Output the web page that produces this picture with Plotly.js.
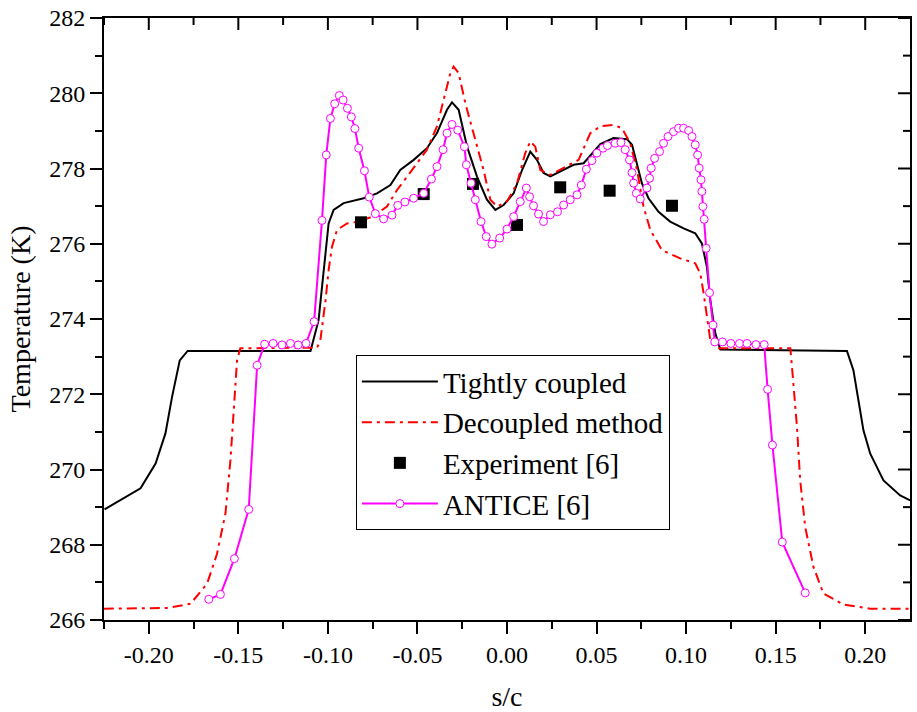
<!DOCTYPE html>
<html>
<head>
<meta charset="utf-8">
<script src="https://cdn.plot.ly/plotly-3.0.1.min.js"></script>
<style>html,body{margin:0;padding:0;background:#fff;overflow:hidden;}#chart{width:917px;height:712px;}</style>
</head>
<body>
<div id="chart"></div>
<script>
// ---- Data ----
const tightX = [-0.2247,-0.2046,-0.1962,-0.1907,-0.1870,-0.1827,-0.1783,-0.1097,-0.1052,-0.1041,-0.1013,-0.0996,-0.0968,-0.0912,-0.0800,-0.0726,-0.0651,-0.0596,-0.0521,-0.0447,-0.0391,-0.0335,-0.0307,-0.0270,-0.0223,-0.0167,-0.0112,-0.0065,-0.0019,0.0037,0.0084,0.0130,0.0167,0.0204,0.0242,0.0297,0.0372,0.0428,0.0483,0.0521,0.0595,0.0670,0.0698,0.0726,0.0753,0.0790,0.0846,0.0911,0.0986,0.1051,0.1088,0.1116,0.1135,0.1163,0.1191,0.1898,0.1934,0.1962,0.1990,0.2028,0.2102,0.2195,0.2251];
const tightY = [268.94,269.50,270.16,270.96,271.93,272.90,273.15,273.15,273.97,274.50,275.66,276.54,276.90,277.08,277.21,277.34,277.56,277.96,278.23,278.54,278.94,279.56,279.76,279.56,278.58,277.78,277.17,276.90,277.03,277.34,277.96,278.45,278.23,277.88,277.79,277.92,278.10,278.14,278.45,278.65,278.81,278.78,278.63,278.14,277.61,277.21,276.85,276.59,276.41,276.28,276.01,275.39,274.50,273.62,273.19,273.15,272.64,271.84,271.04,270.42,269.71,269.31,269.18];

const decX = [-0.2251,-0.1900,-0.1767,-0.1674,-0.1619,-0.1572,-0.1544,-0.1526,-0.1507,-0.1489,-0.1060,-0.1042,-0.1013,-0.0996,-0.0977,-0.0949,-0.0893,-0.0828,-0.0753,-0.0670,-0.0614,-0.0558,-0.0502,-0.0447,-0.0391,-0.0354,-0.0316,-0.0298,-0.0270,-0.0233,-0.0186,-0.0131,-0.0093,-0.0056,0.0000,0.0056,0.0102,0.0130,0.0158,0.0186,0.0242,0.0316,0.0400,0.0465,0.0521,0.0595,0.0642,0.0688,0.0726,0.0762,0.0800,0.0865,0.0967,0.1051,0.1079,0.1098,0.1116,0.1135,0.1172,0.1582,0.1591,0.1619,0.1637,0.1665,0.1711,0.1767,0.1879,0.2028,0.2251];
const decY = [266.30,266.32,266.43,266.97,267.76,268.83,270.25,271.58,272.91,273.22,273.24,273.44,274.50,275.30,275.92,276.37,276.54,276.59,276.72,276.99,277.43,277.78,278.14,278.50,279.12,279.83,280.54,280.71,280.54,279.74,278.94,277.96,277.17,276.99,277.12,277.61,278.41,278.72,278.58,277.96,277.83,278.01,278.23,278.94,279.12,279.16,279.07,278.67,277.96,276.99,276.37,275.83,275.61,275.48,275.21,274.68,274.06,273.44,273.22,273.22,272.73,271.13,269.71,268.47,267.41,266.70,266.41,266.30,266.30];

const expX = [-0.0815,-0.0465,-0.0190,0.0056,0.0297,0.0573,0.0921];
const expY = [276.57,277.32,277.59,276.50,277.50,277.41,277.01];

const anticeX = [-0.1665,-0.1600,-0.1522,-0.1442,-0.1395,-0.1353,-0.1306,-0.1256,-0.1209,-0.1166,-0.1122,-0.1077,-0.1033,-0.1009,-0.0986,-0.0962,-0.0936,-0.0915,-0.0891,-0.0869,-0.0849,-0.0828,-0.0796,-0.0769,-0.0735,-0.0689,-0.0642,-0.0610,-0.0570,-0.0521,-0.0465,-0.0422,-0.0391,-0.0357,-0.0335,-0.0307,-0.0275,-0.0238,-0.0227,-0.0201,-0.0177,-0.0145,-0.0116,-0.0084,-0.0041,0.0000,0.0037,0.0074,0.0108,0.0126,0.0148,0.0176,0.0204,0.0242,0.0282,0.0316,0.0353,0.0391,0.0415,0.0443,0.0474,0.0502,0.0536,0.0561,0.0604,0.0636,0.0660,0.0684,0.0698,0.0707,0.0722,0.0744,0.0781,0.0796,0.0805,0.0824,0.0852,0.0874,0.0899,0.0930,0.0958,0.0986,0.1014,0.1033,0.1051,0.1064,0.1073,0.1083,0.1088,0.1094,0.1101,0.1112,0.1131,0.1150,0.1160,0.1203,0.1250,0.1298,0.1340,0.1390,0.1436,0.1455,0.1482,0.1537,0.1665];
const anticeY = [266.55,266.68,267.63,268.94,272.77,273.33,273.35,273.31,273.35,273.31,273.35,273.93,276.62,278.36,279.33,279.72,279.94,279.82,279.60,279.37,279.06,278.54,277.94,277.24,276.80,276.66,276.76,277.02,277.11,277.21,277.34,277.72,278.05,278.50,278.94,279.17,279.02,278.58,278.10,277.61,277.17,276.59,276.19,275.99,276.15,276.39,276.72,277.12,277.48,277.25,277.01,276.79,276.59,276.77,276.85,277.03,277.17,277.30,277.56,277.98,278.21,278.41,278.54,278.61,278.67,278.69,278.50,278.23,277.89,277.61,277.34,277.19,277.48,277.74,278.01,278.27,278.45,278.67,278.85,278.98,279.07,279.07,279.01,278.85,278.63,278.36,278.01,277.70,277.39,276.99,276.65,275.88,274.70,273.84,273.39,273.39,273.35,273.35,273.35,273.32,273.32,272.13,270.65,268.07,266.72];

const xTickVals = [-0.20,-0.15,-0.10,-0.05,0.00,0.05,0.10,0.15,0.20];
const xTickText = ['-0.20','-0.15','-0.10','-0.05','0.00','0.05','0.10','0.15','0.20'];
const yTickVals = [266,268,270,272,274,276,278,280,282];
const yTickText = ['266','268','270','272','274','276','278','280','282'];

const seriesNames = ['Tightly coupled','Decoupled method','Experiment [6]','ANTICE [6]'];

// ---- Plot ----
const FONT = "'Liberation Serif', 'Times New Roman', Times, serif";
const xRange = [-0.225, 0.225];
const yRange = [266, 282];
const W = 917, H = 712, M = {l: 104, r: 7, t: 18, b: 92};
const plotW = W - M.l - M.r, plotH = H - M.t - M.b;
const MAJ = 12, MIN = 7;

// minor tick positions halfway between the major ones (plus the outer halves inside the range)
function minorsOf(vals, range){
  const step = vals[1] - vals[0], out = [];
  for(let i = -1; i < vals.length; i++){
    const v = (i < 0 ? vals[0] - step : vals[i]) + step / 2;
    if(v > range[0] && v < range[1]) out.push(v);
  }
  return out;
}
const xMinor = minorsOf(xTickVals, xRange);
const yMinor = minorsOf(yTickVals, yRange);

// inward ticks on the top and right frame (mirrors of the bottom/left axes)
const frameLine = {color: '#000', width: 2};
const shapes = [];
xTickVals.forEach(v => shapes.push({type: 'line', xref: 'x', yref: 'paper', x0: v, x1: v, y0: 1, y1: 1 - MAJ / plotH, line: frameLine}));
xMinor.forEach(v => shapes.push({type: 'line', xref: 'x', yref: 'paper', x0: v, x1: v, y0: 1, y1: 1 - MIN / plotH, line: frameLine}));
yTickVals.forEach(v => shapes.push({type: 'line', xref: 'paper', yref: 'y', x0: 1, x1: 1 - MAJ / plotW, y0: v, y1: v, line: frameLine}));
yMinor.forEach(v => shapes.push({type: 'line', xref: 'paper', yref: 'y', x0: 1, x1: 1 - MIN / plotW, y0: v, y1: v, line: frameLine}));

const traces = [
  {x: tightX, y: tightY, name: seriesNames[0], type: 'scatter', mode: 'lines',
   line: {color: '#000000', width: 2}},
  {x: decX, y: decY, name: seriesNames[1], type: 'scatter', mode: 'lines',
   line: {color: '#FF0000', width: 2, dash: '10px,5px,3px,5px'}},
  {x: expX, y: expY, name: seriesNames[2], type: 'scatter', mode: 'markers',
   marker: {symbol: 'square', size: 12, color: '#000000'}},
  {x: anticeX, y: anticeY, name: seriesNames[3], type: 'scatter', mode: 'lines+markers',
   line: {color: '#FF00FF', width: 2},
   marker: {symbol: 'circle', size: 8, color: '#FFFFFF', line: {color: '#FF00FF', width: 1}}}
];

const layout = {
  width: W, height: H,
  margin: M,
  paper_bgcolor: '#fff', plot_bgcolor: '#fff',
  font: {family: FONT, color: '#000'},
  showlegend: true,
  shapes: shapes,
  xaxis: {
    range: xRange, showline: true, mirror: true, linewidth: 2, linecolor: '#000', showgrid: false, zeroline: false,
    tickmode: 'array', tickvals: xTickVals, ticktext: xTickText,
    ticks: 'outside', ticklen: MAJ, tickwidth: 2, tickcolor: '#000',
    tickfont: {family: FONT, size: 24, color: '#000'},
    minor: {tickmode: 'array', tickvals: xMinor, ticks: 'outside', ticklen: MIN, tickwidth: 2, tickcolor: '#000'},
    title: {text: 's/c', font: {family: FONT, size: 28, color: '#000'}, standoff: 22}
  },
  yaxis: {
    range: yRange, showline: true, mirror: true, linewidth: 2, linecolor: '#000', showgrid: false, zeroline: false,
    tickmode: 'array', tickvals: yTickVals, ticktext: yTickText,
    ticks: 'outside', ticklen: MAJ, tickwidth: 2, tickcolor: '#000',
    tickfont: {family: FONT, size: 24, color: '#000'},
    minor: {tickmode: 'array', tickvals: yMinor, ticks: 'outside', ticklen: MIN, tickwidth: 2, tickcolor: '#000'},
    title: {text: 'Temperature (K)', font: {family: FONT, size: 28, color: '#000'}, standoff: 10}
  },
  legend: {x: 0.3125, y: 0.44, xanchor: 'left', yanchor: 'top',
    bgcolor: '#fff', bordercolor: '#000', borderwidth: 1,
    font: {family: FONT, size: 29, color: '#000'}, itemwidth: 76}
};

Plotly.newPlot('chart', traces, layout, {displayModeBar: false});
</script>
</body>
</html>
